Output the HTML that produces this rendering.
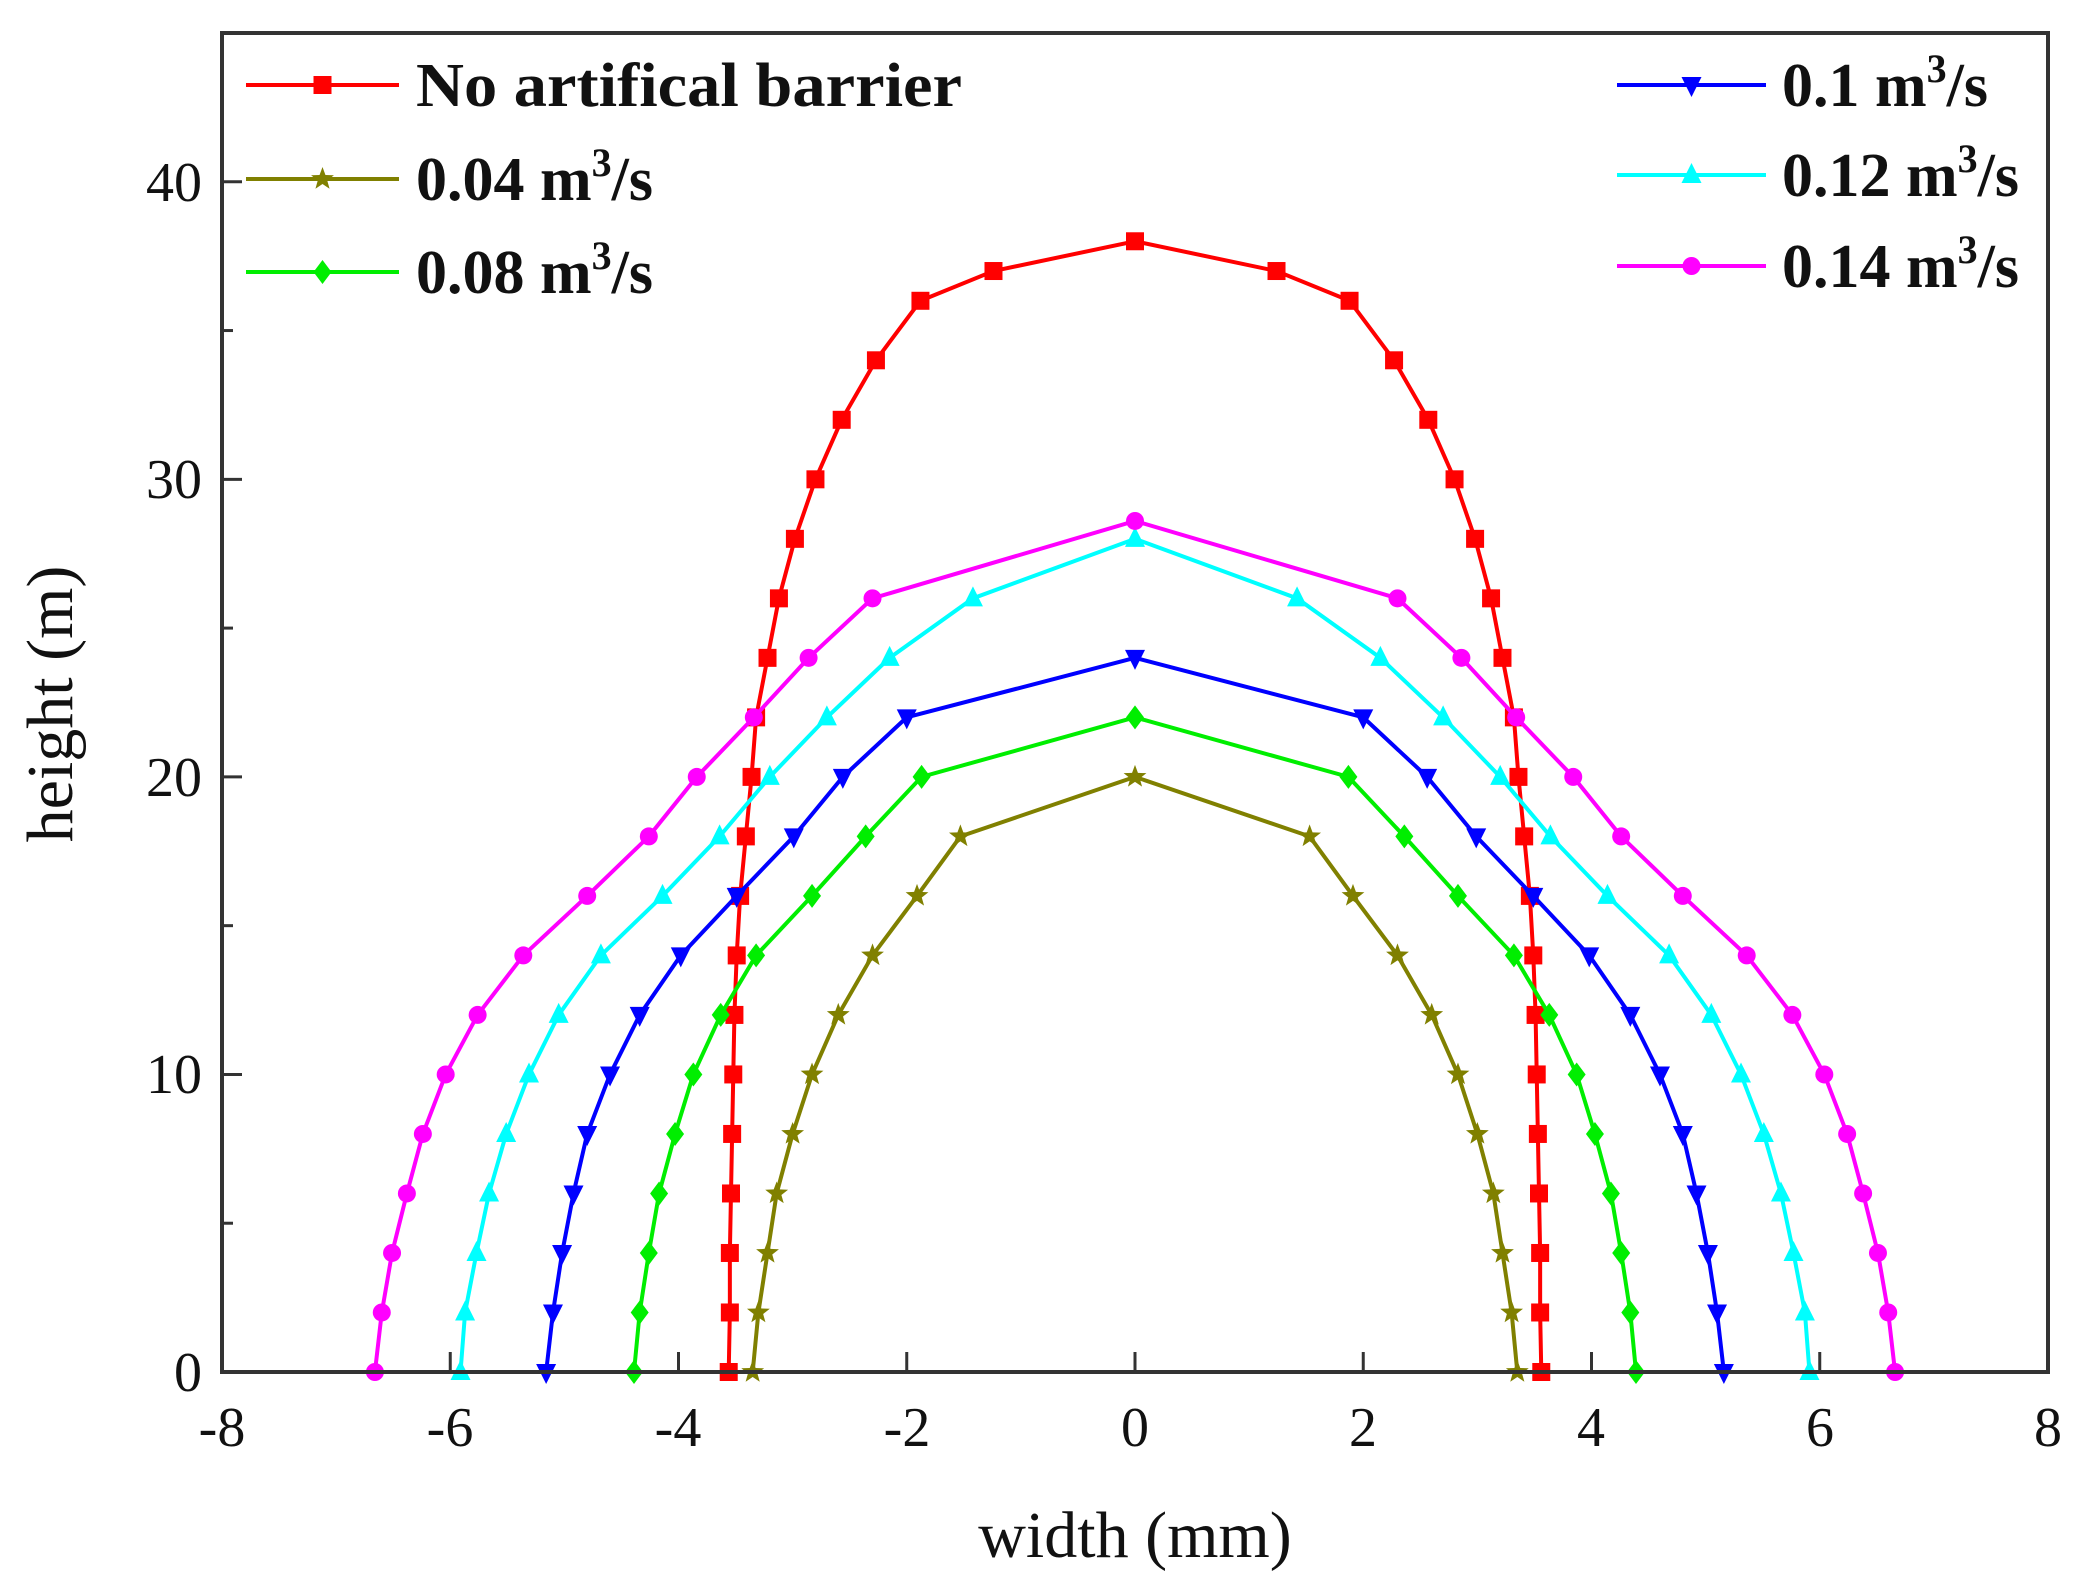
<!DOCTYPE html>
<html><head><meta charset="utf-8"><style>
html,body{margin:0;padding:0;background:#fff;}
svg{display:block;font-family:"Liberation Serif",serif;}
</style></head><body>
<svg id="s" width="2082" height="1588" viewBox="0 0 2082 1588" xmlns="http://www.w3.org/2000/svg">
<rect width="2082" height="1588" fill="#fff"/>
<g id="series"></g>
<g id="axes" stroke="#333" stroke-width="4" fill="none">
<rect x="222" y="33" width="1826" height="1339"/>
</g>
<g id="ticks" stroke="#333" stroke-width="3"></g>
<g font-size="56" fill="#111" text-anchor="end">
<text x="202" y="1391">0</text>
<text x="202" y="1093">10</text>
<text x="202" y="796">20</text>
<text x="202" y="498">30</text>
<text x="202" y="201">40</text>
</g>
<g font-size="56" fill="#111" text-anchor="middle">
<text x="222" y="1446">-8</text>
<text x="450" y="1446">-6</text>
<text x="678" y="1446">-4</text>
<text x="907" y="1446">-2</text>
<text x="1135" y="1446">0</text>
<text x="1363" y="1446">2</text>
<text x="1591" y="1446">4</text>
<text x="1820" y="1446">6</text>
<text x="2048" y="1446">8</text>
</g>
<text x="1135" y="1557" font-size="66" text-anchor="middle" fill="#111">width (mm)</text>
<text transform="translate(72,704) rotate(-90)" font-size="66" text-anchor="middle" fill="#111">height (m)</text>
<g id="legend"></g>
<g font-size="62" font-weight="bold" fill="#111">
<text x="416" y="106" textLength="546" lengthAdjust="spacingAndGlyphs">No artifical barrier</text>
<text x="416" y="200">0.04 m<tspan dy="-24" font-size="40">3</tspan><tspan dy="24">/s</tspan></text>
<text x="416" y="293">0.08 m<tspan dy="-24" font-size="40">3</tspan><tspan dy="24">/s</tspan></text>
<text x="1782" y="106">0.1 m<tspan dy="-24" font-size="40">3</tspan><tspan dy="24">/s</tspan></text>
<text x="1782" y="196">0.12 m<tspan dy="-24" font-size="40">3</tspan><tspan dy="24">/s</tspan></text>
<text x="1782" y="287">0.14 m<tspan dy="-24" font-size="40">3</tspan><tspan dy="24">/s</tspan></text>
</g>
</svg>
<script>
(function(){
var NS="http://www.w3.org/2000/svg";
function X(v){return 222+(v+8)*114.125;}
function Y(h){return 1372-h*29.756;}
function el(t,a,p){var e=document.createElementNS(NS,t);for(var k in a)e.setAttribute(k,a[k]);p.appendChild(e);return e;}
var tk=document.getElementById('ticks');
for(var v=-8;v<=8;v+=2){el('line',{x1:X(v),y1:1372,x2:X(v),y2:1352},tk);}
for(var h=0;h<=45;h+=5){var L=(h%10===0)?20:11;el('line',{x1:222,y1:Y(h),x2:222+L,y2:Y(h)},tk);}
var S=[
{c:'#ff0000',m:'sq',h:[0,2,4,6,8,10,12,14,16,18,20,22,24,26,28,30,32,34,36,37],x:[-3.56,-3.55,-3.55,-3.54,-3.53,-3.52,-3.51,-3.49,-3.46,-3.41,-3.36,-3.32,-3.22,-3.12,-2.98,-2.8,-2.57,-2.27,-1.88,-1.24],top:38},
{c:'#808000',m:'star',h:[0,2,4,6,8,10,12,14,16,18],x:[-3.35,-3.3,-3.22,-3.14,-3.0,-2.83,-2.6,-2.3,-1.91,-1.53],top:20},
{c:'#00ee00',m:'dia',h:[0,2,4,6,8,10,12,14,16,18,20],x:[-4.39,-4.34,-4.26,-4.17,-4.03,-3.87,-3.63,-3.32,-2.83,-2.36,-1.87],top:22},
{c:'#0000ff',m:'dn',h:[0,2,4,6,8,10,12,14,16,18,20,22],x:[-5.16,-5.1,-5.02,-4.92,-4.8,-4.6,-4.34,-3.98,-3.49,-2.99,-2.56,-2.0],top:24},
{c:'#00ffff',m:'up',h:[0,2,4,6,8,10,12,14,16,18,20,22,24,26],x:[-5.91,-5.87,-5.77,-5.66,-5.51,-5.31,-5.05,-4.68,-4.14,-3.64,-3.2,-2.7,-2.15,-1.42],top:28},
{c:'#ff00ff',m:'ci',h:[0,2,4,6,8,10,12,14,16,18,20,22,24,26],x:[-6.66,-6.6,-6.51,-6.38,-6.24,-6.04,-5.76,-5.36,-4.8,-4.26,-3.84,-3.34,-2.86,-2.3],top:28.6}
];
function marker(m,x,y,c,p){
 var r=9;
 if(m==='sq')el('rect',{x:x-r,y:y-r,width:2*r,height:2*r,fill:c},p);
 else if(m==='ci')el('circle',{cx:x,cy:y,r:r,fill:c},p);
 else if(m==='dia')el('polygon',{points:[x,y-12,x+9,y,x,y+12,x-9,y].join(','),fill:c},p);
 else if(m==='up')el('polygon',{points:[x,y-12,x+10,y+8,x-10,y+8].join(','),fill:c},p);
 else if(m==='dn')el('polygon',{points:[x,y+12,x+10,y-8,x-10,y-8].join(','),fill:c},p);
 else if(m==='star'){var pts=[];for(var i=0;i<10;i++){var a=-Math.PI/2+i*Math.PI/5,rr=(i%2?5:12);pts.push(x+rr*Math.cos(a),y+rr*Math.sin(a));}el('polygon',{points:pts.join(','),fill:c},p);}
}
var g=document.getElementById('series');
S.forEach(function(s){
 var P=[];
 for(var i=0;i<s.h.length;i++)P.push([s.x[i],s.h[i]]);
 P.push([0,s.top]);
 for(var i=s.h.length-1;i>=0;i--)P.push([-s.x[i],s.h[i]]);
 el('polyline',{points:P.map(function(q){return X(q[0])+','+Y(q[1]);}).join(' '),fill:'none',stroke:s.c,'stroke-width':4},g);
 P.forEach(function(q){marker(s.m,X(q[0]),Y(q[1]),s.c,g);});
});
var lg=document.getElementById('legend');
var L=[[246,399,85,0],[246,399,179,1],[246,399,272,2],[1617,1766,85,3],[1617,1766,175,4],[1617,1766,266,5]];
L.forEach(function(l){var s=S[l[3]];el('line',{x1:l[0],y1:l[2],x2:l[1],y2:l[2],stroke:s.c,'stroke-width':4},lg);marker(s.m,(l[0]+l[1])/2,l[2],s.c,lg);});
})();
</script>
</body></html>
